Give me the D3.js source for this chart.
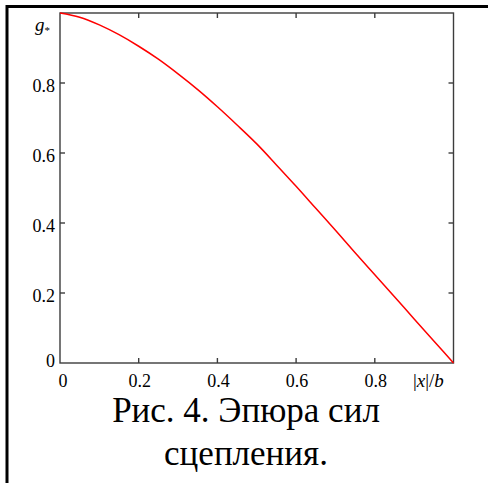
<!DOCTYPE html>
<html>
<head>
<meta charset="utf-8">
<script src="https://cdn.jsdelivr.net/npm/d3@7"></script>
</head>
<body style="margin:0">
<div id="chart"></div>
<script>
// values
let xs = [0, 0.05, 0.1, 0.15, 0.2, 0.25, 0.3, 0.35, 0.4, 0.45, 0.5,
          0.55, 0.6, 0.65, 0.7, 0.75, 0.8, 0.85, 0.9, 0.95, 1.0];
let gs = [1.0, 0.988, 0.966, 0.938, 0.905, 0.868, 0.826, 0.781, 0.732, 0.68, 0.626,
          0.566, 0.505, 0.442, 0.379, 0.315, 0.252, 0.189, 0.126, 0.063, 0];
let xTicks = [0, 0.2, 0.4, 0.6, 0.8];
let yTicks = [0, 0.2, 0.4, 0.6, 0.8];
let captionLines = ["Рис. 4. Эпюра сил", "сцепления."];

let width = 488, height = 483;
let plotLeft = 60, plotRight = 453.5, plotTop = 13, plotBottom = 363;
let axisColor = "#3c3c3c";

let svg = d3.select("#chart").append("svg")
    .attr("width", width)
    .attr("height", height)
    .style("display", "block")
    .style("font-family", "'Liberation Serif', 'Times New Roman', serif");

// outer frame (left and top edges only)
svg.append("path")
    .attr("d", "M7,483 V6.5 H488")
    .attr("fill", "none")
    .attr("stroke", "#000")
    .attr("stroke-width", 3);

let x = d3.scaleLinear().domain([0, 1]).range([plotLeft, plotRight]);
let y = d3.scaleLinear().domain([0, 1]).range([plotBottom, plotTop]);

// plot box
svg.append("rect")
    .attr("x", plotLeft).attr("y", plotTop)
    .attr("width", plotRight - plotLeft).attr("height", plotBottom - plotTop)
    .attr("fill", "none")
    .attr("stroke", axisColor)
    .attr("stroke-width", 1.4);

// inward ticks on all four sides
let tick = 5;
let g = svg.append("g").attr("stroke", axisColor).attr("stroke-width", 1.4);
xTicks.filter(d => d > 0).forEach(function(d) {
    g.append("line").attr("x1", x(d)).attr("x2", x(d)).attr("y1", plotBottom).attr("y2", plotBottom - tick);
    g.append("line").attr("x1", x(d)).attr("x2", x(d)).attr("y1", plotTop).attr("y2", plotTop + tick);
});
yTicks.filter(d => d > 0).forEach(function(d) {
    g.append("line").attr("y1", y(d)).attr("y2", y(d)).attr("x1", plotLeft).attr("x2", plotLeft + tick);
    g.append("line").attr("y1", y(d)).attr("y2", y(d)).attr("x1", plotRight).attr("x2", plotRight - tick);
});

// tick labels
svg.selectAll(".xlab").data(xTicks).enter().append("text")
    .attr("class", "xlab")
    .attr("x", d => x(d) + (d == 0 ? 3 : 1))
    .attr("y", plotBottom + 24)
    .attr("text-anchor", "middle")
    .style("font-size", "18px")
    .text(d => d == 0 ? "0" : d3.format(".1f")(d));

svg.selectAll(".ylab").data(yTicks).enter().append("text")
    .attr("class", "ylab")
    .attr("x", plotLeft - 5)
    .attr("y", d => y(d) + (d == 0 ? 4 : 9))
    .attr("text-anchor", "end")
    .style("font-size", "18px")
    .text(d => d == 0 ? "0" : d3.format(".1f")(d));

// axis names
let gl = svg.append("text")
    .attr("x", 35).attr("y", 31)
    .style("font-size", "19px");
gl.append("tspan").style("font-style", "italic").text("g");
gl.append("tspan").attr("dy", 3).style("font-size", "11px").text("*");

let xl = svg.append("text")
    .attr("x", 413).attr("y", plotBottom + 24)
    .style("font-size", "19px");
xl.append("tspan").text("|");
xl.append("tspan").style("font-style", "italic").text("x");
xl.append("tspan").text("|/");
xl.append("tspan").style("font-style", "italic").text("b");

// curve
let line = d3.line()
    .x((d, i) => x(xs[i]))
    .y(d => y(d))
    .curve(d3.curveMonotoneX);

svg.append("path")
    .datum(gs)
    .attr("d", line)
    .attr("fill", "none")
    .attr("stroke", "#ff0000")
    .attr("stroke-width", 1.5);

// caption
svg.selectAll(".cap").data(captionLines).enter().append("text")
    .attr("class", "cap")
    .attr("x", 246)
    .attr("y", (d, i) => 422 + i * 43)
    .attr("text-anchor", "middle")
    .style("font-size", "35px")
    .text(d => d);
</script>
</body>
</html>
